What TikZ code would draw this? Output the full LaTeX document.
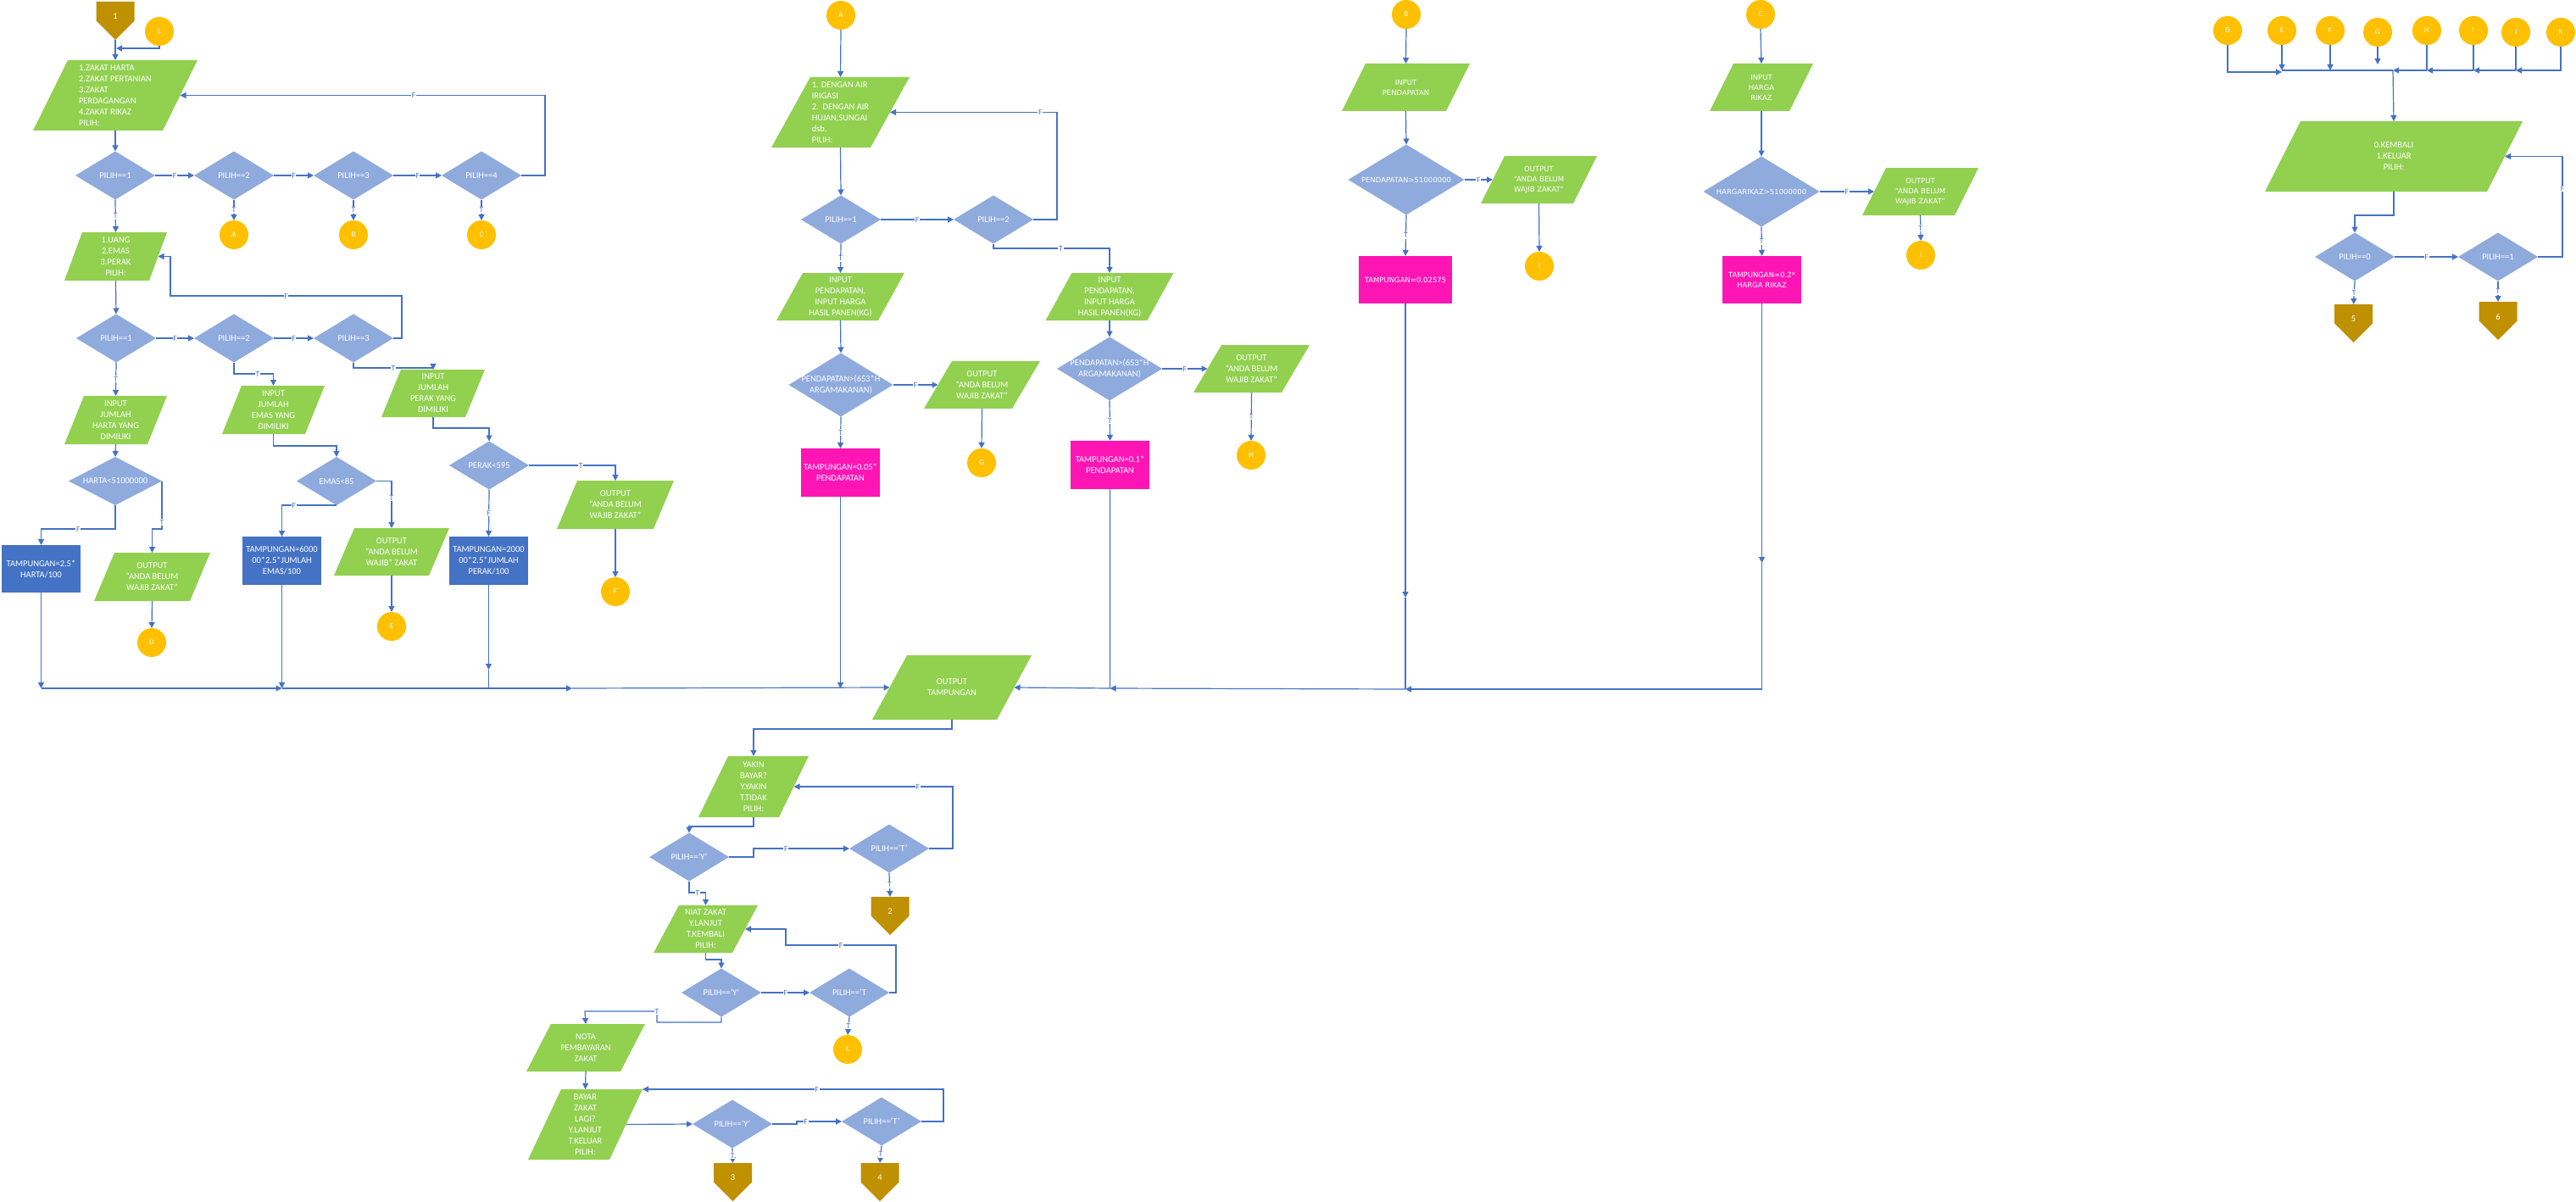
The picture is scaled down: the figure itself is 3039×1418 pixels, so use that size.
\documentclass[tikz,border=0pt]{standalone}
\usepackage{fontspec}
\setmainfont{Carlito}
\newfontfamily\widefont{DejaVu Sans}
\usetikzlibrary{shapes.geometric,arrows.meta}
\definecolor{cGreen}{HTML}{92D050}
\definecolor{cDia}{HTML}{8FAADC}
\definecolor{cLine}{HTML}{4472C4}
\definecolor{cCirc}{HTML}{FFC000}
\definecolor{cOff}{HTML}{BF9000}
\definecolor{cMag}{HTML}{FF14B4}
\definecolor{cBlue}{HTML}{4472C4}
\tikzset{
  txt/.style={text=white, font=\fontsize{10.5}{13}\selectfont, align=center, inner sep=0pt},
  txtw/.style={text=white, font=\widefont\fontsize{8.5}{12}\selectfont, align=center, inner sep=0pt},
  tx/.style={label={[txt]center:{#1}}},
  tl/.style={label={[txt,align=left]center:{#1}}},
  tw/.style={label={[txtw]center:{#1}}},
  dec/.style={diamond, fill=cDia, inner sep=0.5pt, outer sep=0pt},
  dsm/.style={dec, minimum width=94pt, minimum height=57pt},
  proc/.style={rectangle, fill=cBlue, inner sep=0pt, outer sep=0pt},
  procm/.style={rectangle, fill=cMag, inner sep=0pt, outer sep=0pt},
  con/.style={circle, fill=cCirc, minimum size=34pt, inner sep=0pt, outer sep=0pt, text=white, font=\fontsize{9}{9}\selectfont},
  offp/.style={rectangle, anchor=north, minimum width=45pt, minimum height=45pt, inner sep=0pt, outer sep=0pt,
    path picture={\fill[cOff] (path picture bounding box.north west) -- (path picture bounding box.north east) -- (path picture bounding box.east) -- (path picture bounding box.south) -- (path picture bounding box.west) -- cycle;},
    label={[txt,yshift=5pt]center:{#1}}},
  wire/.style={draw=cLine, line width=1.2pt},
  arr/.style={wire, -{Triangle[length=7pt,width=7pt]}},
  lab/.style={text=cLine, fill=white, inner sep=0.8pt, font=\fontsize{9.5}{9.5}\selectfont},
}
% input/output parallelogram: text style, name, centre x, centre y, full width, height, slant, text
\newcommand\pgramnode[8]{%
  \fill[cGreen] ({#3-#5/2},{#4+#6/2}) -- ({#3+#5/2-#7},{#4+#6/2}) -- ({#3+#5/2},{#4-#6/2}) -- ({#3-#5/2+#7},{#4-#6/2}) -- cycle;
  \node[rectangle, inner sep=0pt, outer sep=0pt, minimum width={(#5-#7)*1pt}, minimum height={#6*1pt}, #1={#8}] (#2) at (#3,#4) {};
  \coordinate (#2-tr) at ({#3+#5/2},{#4-#6/2});
}
\begin{document}
\begin{tikzpicture}[x=1pt,y=-1pt]
\useasboundingbox (0,0) rectangle (3039,1418);

% ---------- main menu and zakat harta branch
\node[offp={1}] (o1) at (136,2) {};
\node[con] (cL1) at (188,37) {L};
\pgramnode{tl}{m1}{136}{112.5}{194}{83}{41}{1.ZAKAT HARTA\\2.ZAKAT PERTANIAN\\3.ZAKAT\\PERDAGANGAN\\4.ZAKAT RIKAZ\\PILIH:}
\node[dsm, tx={PILIH==1}] (a1) at (136,207) {};
\node[dsm, tx={PILIH==2}] (a2) at (276,207) {};
\node[dsm, tx={PILIH==3}] (a3) at (417,207) {};
\node[dsm, tx={PILIH==4}] (a4) at (568,207) {};
\node[con] (cA) at (276,277) {A};
\node[con] (cB) at (417,277) {B};
\node[con] (cC) at (568,277) {C};
\pgramnode{tx}{m2}{136.5}{302.5}{121}{57}{21}{1.UANG\\2.EMAS\\3.PERAK\\PILIH:}
\node[dsm, tx={PILIH==1}] (b1) at (137,399) {};
\node[dsm, tx={PILIH==2}] (b2) at (276,399) {};
\node[dsm, tx={PILIH==3}] (b3) at (417,399) {};
\pgramnode{tx}{inH}{136.5}{495.5}{121}{57}{23}{INPUT\\JUMLAH\\HARTA YANG\\DIMILIKI}
\pgramnode{tx}{inE}{322.5}{483.5}{121}{57}{23}{INPUT\\JUMLAH\\EMAS YANG\\DIMILIKI}
\pgramnode{tx}{inK}{511}{464}{122}{56}{23}{INPUT\\JUMLAH\\PERAK YANG\\DIMILIKI}
\node[dec, minimum width=110pt, minimum height=57pt, tx={HARTA<51000000}] (dH) at (136,567.5) {};
\node[dsm, tx={EMAS<85}] (dE) at (397,567.5) {};
\node[dsm, tx={PERAK<595}] (dK) at (577,549) {};
\node[proc, minimum width=93pt, minimum height=56pt, tx={TAMPUNGAN=2.5*\\HARTA/100}] (rH) at (48.5,671) {};
\pgramnode{tx}{oH}{179.5}{680.5}{137}{57}{24}{OUTPUT\\“ANDA BELUM\\WAJIB ZAKAT”}
\node[con] (cD) at (179,758) {D};
\node[proc, minimum width=93pt, minimum height=57pt, tx={TAMPUNGAN=6000\\00*2.5*JUMLAH\\EMAS/100}] (rE) at (332.5,661.5) {};
\pgramnode{tx}{oE}{462}{651}{136}{56}{24}{OUTPUT\\“ANDA BELUM\\WAJIB” ZAKAT}
\node[con] (cE) at (462,739) {E};
\node[proc, minimum width=93pt, minimum height=57pt, tx={TAMPUNGAN=2000\\00*2.5*JUMLAH\\PERAK/100}] (rK) at (576.5,661.5) {};
\pgramnode{tx}{oK}{726}{595.5}{138}{57}{24}{OUTPUT\\“ANDA BELUM\\WAJIB ZAKAT”}
\node[con] (cF) at (726,698) {F};

% ---------- zakat pertanian branch
\node[con] (cA2) at (992,18) {A};
\pgramnode{tl}{mA}{991.5}{132.5}{163}{83}{46}{1. DENGAN AIR\\IRIGASI\\2.\ \ DENGAN AIR\\HUJAN,SUNGAI\\dsb.\\PILIH:}
\node[dsm, tx={PILIH==1}] (p1) at (992,259) {};
\node[dsm, tx={PILIH==2}] (p2) at (1172,259) {};
\pgramnode{tx}{iP1}{991.5}{350}{151}{56}{31}{INPUT\\PENDAPATAN,\\INPUT HARGA\\HASIL PANEN(KG)}
\pgramnode{tx}{iP2}{1309}{350}{151}{56}{31}{INPUT\\PENDAPATAN,\\INPUT HARGA\\HASIL PANEN(KG)}
\node[dec, minimum width=123pt, minimum height=75pt, tx={PENDAPATAN>(653*H\\ARGAMAKANAN)}] (dP1) at (992,454) {};
\node[dec, minimum width=124pt, minimum height=75pt, tx={PENDAPATAN>(653*H\\ARGAMAKANAN)}] (dP2) at (1309,435) {};
\pgramnode{tx}{oG}{1158.5}{454}{137}{56}{33}{OUTPUT\\“ANDA BELUM\\WAJIB ZAKAT”}
\node[con] (cG) at (1158,546) {G};
\node[procm, minimum width=93pt, minimum height=57pt, tx={TAMPUNGAN=0.05*\\PENDAPATAN}] (rP1) at (991.5,557.5) {};
\pgramnode{tx}{oHH}{1476.5}{435}{137}{56}{33}{OUTPUT\\“ANDA BELUM\\WAJIB ZAKAT”}
\node[con] (cH) at (1476,537) {H};
\node[procm, minimum width=93pt, minimum height=57pt, tx={TAMPUNGAN=0.1*\\PENDAPATAN}] (rP2) at (1309.5,548.5) {};
\pgramnode{tx}{tamp}{1123}{811}{188}{76}{41}{OUTPUT\\TAMPUNGAN}

% ---------- zakat perdagangan branch
\node[con] (cB2) at (1659,17) {B};
\pgramnode{tw}{iB}{1658.5}{103}{151}{56}{28}{INPUT\\PENDAPATAN}
\node[dec, minimum width=137pt, minimum height=83pt, tw={PENDAPATAN>51000000}] (dB) at (1659,212) {};
\pgramnode{tw}{oI}{1815.5}{212}{137}{56}{28}{OUTPUT\\“ANDA BELUM\\WAJIB ZAKAT”}
\node[con] (cI) at (1816,314) {I};
\node[procm, minimum width=110pt, minimum height=56pt, tw={TAMPUNGAN=0.02575}] (rB) at (1658,330) {};

% ---------- zakat rikaz branch
\node[con] (cC2) at (2077,17) {C};
\pgramnode{tw}{iC}{2078}{103}{122}{56}{28}{INPUT\\HARGA\\RIKAZ}
\node[dec, minimum width=137pt, minimum height=83pt, tw={HARGARIKAZ>51000000}] (dC) at (2078,226) {};
\pgramnode{tw}{oJ}{2265.5}{226}{137}{56}{28}{OUTPUT\\“ANDA BELUM\\WAJIB ZAKAT”}
\node[con] (cJ) at (2266,301) {J};
\node[procm, minimum width=93pt, minimum height=56pt, tw={TAMPUNGAN=0.2*\\HARGA RIKAZ}] (rC) at (2078.5,330) {};

% ---------- return / exit menu
\node[con] (xD) at (2628,36) {D};
\node[con] (xE) at (2692,36) {E};
\node[con] (xF) at (2749,36) {F};
\node[con] (xG) at (2805,38) {G};
\node[con] (xH) at (2863,36) {H};
\node[con] (xI) at (2918,36) {I};
\node[con] (xJ) at (2968,38) {J};
\node[con] (xK) at (3021,38) {K};
\pgramnode{tx}{mK}{2824}{184.5}{304}{83}{42}{0.KEMBALI\\1.KELUAR\\PILIH:}
\node[dsm, tx={PILIH==0}] (k0) at (2778,303) {};
\node[dsm, tx={PILIH==1}] (k1) at (2947,303) {};
\node[offp={5}] (o5) at (2776.5,359) {};
\node[offp={6}] (o6) at (2947,356) {};

% ---------- payment confirmation
\pgramnode{tx}{yak}{889}{928}{130}{72}{35}{YAKIN\\BAYAR?\\Y.YAKIN\\T.TIDAK\\PILIH:}
\node[dsm, tx={PILIH==’Y’}] (y1) at (813,1011) {};
\node[dsm, tx={PILIH==’T’}] (t1) at (1049,1001) {};
\node[offp={2}] (o2) at (1050,1058) {};
\pgramnode{tx}{niat}{832.5}{1096}{123}{56}{30}{NIAT ZAKAT\\Y.LANJUT\\T.KEMBALI\\PILIH:}
\node[dsm, tx={PILIH==’Y’}] (y2) at (851,1171) {};
\node[dsm, tx={PILIH==’T}] (t2) at (1002,1171) {};
\node[con] (cL2) at (1000,1238) {L};
\pgramnode{tx}{nota}{691}{1236}{140}{56}{29}{NOTA\\PEMBAYARAN\\ZAKAT}
\pgramnode{tx}{bayar}{690.5}{1326.5}{135}{83}{39}{BAYAR\\ZAKAT\\LAGI?\\Y.LANJUT\\T.KELUAR\\PILIH:}
\node[dsm, tx={PILIH==’Y’}] (y3) at (864,1326) {};
\node[dsm, tx={PILIH==’T’}] (t3) at (1040,1323) {};
\node[offp={3}] (o3) at (864.5,1372) {};
\node[offp={4}] (o4) at (1038,1372) {};

% ================= connectors
% main menu
\coordinate (jL) at (137,57);
\draw[arr] (o1.south) -- (m1.north);
\draw[arr] (cL1.south) |- (jL);
\draw[arr] (m1.south) -- (a1.north);
\draw[arr] (a1.east) -- node[lab]{F} (a2.west);
\draw[arr] (a2.east) -- node[lab]{F} (a3.west);
\draw[arr] (a3.east) -- node[lab]{F} (a4.west);
\draw[arr] (a4.east) -- (643,207) |- node[lab,pos=0.68]{F} (m1.east);
\draw[arr] (a2.south) -- node[lab]{T} (cA.north);
\draw[arr] (a3.south) -- node[lab]{T} (cB.north);
\draw[arr] (a4.south) -- node[lab]{T} (cC.north);
\draw[arr] (a1.south) -- node[lab]{T} (m2.north);
% harta submenu
\draw[arr] (m2.south) -- (b1.north);
\draw[arr] (b1.east) -- node[lab]{F} (b2.west);
\draw[arr] (b2.east) -- node[lab]{F} (b3.west);
\draw[arr] (b3.east) -- (474,399) -- (474,349) -- node[lab]{F} (201,349) -- (201,302.5) -- (m2.east);
\draw[arr] (b1.south) -- node[lab]{T} (inH.north);
\draw[arr] (b2.south) -- (276,441) -| node[lab,pos=0.3]{T} (inE.north);
\draw[arr] (b3.south) -- (417,434) -| node[lab,pos=0.25]{T} (inK.north);
\draw[arr] (inH.south) -- (dH.north);
\draw[arr] (inE.south) -- (322.5,526) -| (dE.north);
\draw[arr] (inK.south) -- (511,505) -| (dK.north);
\draw[arr] (dH.south) -- (136,624) -| node[lab,pos=0.25]{F} (rH.north);
\draw[arr] (dH.east) -- node[lab,pos=0.86]{T} (191,624) -| (oH.north);
\draw[arr] (oH.south) -- (cD.north);
\draw[arr] (dE.south) -| node[lab,pos=0.39]{F} (rE.north);
\draw[arr] (dE.east) -| node[lab,pos=0.68]{T} (oE.north);
\draw[arr] (oE.south) -- (cE.north);
\draw[arr] (dK.east) -| node[lab,pos=0.3]{T} (oK.north);
\draw[arr] (dK.south) -- node[lab]{F} (rK.north);
\draw[arr] (oK.south) -- (cF.north);

% collecting line to the output
\coordinate (c0) at (48.5,812);
\coordinate (c1) at (332.5,812);
\coordinate (c2) at (675,812);
\coordinate (c3) at (576.5,790);
\coordinate (c4) at (576.5,812);
\coordinate (c5) at (991.5,812);
\coordinate (c6) at (1309.5,812);
\coordinate (c7) at (1658,813);
\coordinate (c8) at (2078.5,813);
\coordinate (c9) at (1658,705);
\coordinate (c10) at (2078.5,664);
\draw[arr] (rH.south) -- (c0);
\draw[arr] (c0) -- (c1);
\draw[arr] (c1) -- (c2);
\draw[arr] (c2) -- (tamp.west);
\draw[arr] (rE.south) -- (c1);
\draw[arr] (rK.south) -- (c3);
\draw[wire] (c3) -- (c4);
\draw[arr] (rP1.south) -- (c5);
\draw[arr] (rP2.south) -- (c6) -- (tamp.east);
\draw[arr] (rB.south) -- (c9);
\draw[wire] (c9) -- (c7);
\draw[arr] (rC.south) -- (c10);
\draw[wire] (c10) -- (c8);
\draw[arr] (c8) -- (c7);
\draw[arr] (c7) -- (c6);

% pertanian
\draw[arr] (cA2.south) -- (mA.north);
\draw[arr] (mA.south) -- (p1.north);
\draw[arr] (p1.east) -- node[lab]{F} (p2.west);
\draw[arr] (p2.east) -- (1247,259) |- node[lab,pos=0.55]{F} (mA.east);
\draw[arr] (p1.south) -- node[lab]{T} (iP1.north);
\draw[arr] (p2.south) -- (1172,293) -| node[lab,pos=0.29]{T} (iP2.north);
\draw[arr] (iP1.south) -- (dP1.north);
\draw[arr] (iP2.south) -- (dP2.north);
\draw[arr] (dP1.east) -- node[lab]{F} (oG.west);
\draw[arr] (oG.south) -- (cG.north);
\draw[arr] (dP1.south) -- node[lab]{T} (rP1.north);
\draw[arr] (dP2.east) -- node[lab]{F} (oHH.west);
\draw[arr] (oHH.south) -- node[lab]{T} (cH.north);
\draw[arr] (dP2.south) -- node[lab]{T} (rP2.north);

% perdagangan
\draw[arr] (cB2.south) -- (iB.north);
\draw[arr] (iB.south) -- (dB.north);
\draw[arr] (dB.east) -- node[lab]{F} (oI.west);
\draw[arr] (oI.south) -- (cI.north);
\draw[arr] (dB.south) -- node[lab]{T} (rB.north);

% rikaz
\draw[arr] (cC2.south) -- (iC.north);
\draw[arr] (iC.south) -- (dC.north);
\draw[arr] (dC.east) -- node[lab]{F} (oJ.west);
\draw[arr] (oJ.south) -- node[lab]{T} (cJ.north);
\draw[arr] (dC.south) -- node[lab]{T} (rC.north);

% connectors gathered into the return menu
\coordinate (bD) at (2692,85);
\coordinate (bus0) at (2692,83);
\coordinate (busF) at (2749,83);
\coordinate (busG) at (2805,76);
\coordinate (bus1) at (2823,83);
\coordinate (busH) at (2863,83);
\coordinate (busI) at (2918,83);
\coordinate (busJ) at (2968,83);
\draw[arr] (xD.south) |- (bD);
\draw[arr] (xE.south) -- (bus0);
\draw[arr] (xF.south) -- (busF);
\draw[arr] (xG.south) -- (busG);
\draw[wire] (bus0) -- (bus1);
\draw[arr] (busH) -- (bus1);
\draw[arr] (busI) -- (busH);
\draw[arr] (busJ) -- (busI);
\draw[wire] (xH.south) -- (busH);
\draw[wire] (xI.south) -- (busI);
\draw[wire] (xJ.south) -- (busJ);
\draw[arr] (xK.south) |- (busJ);
\draw[arr] (bus1) -- (mK.north);
\draw[arr] (mK.south) -- (2824,254) -| (k0.north);
\draw[arr] (k0.east) -- node[lab]{F} (k1.west);
\draw[arr] (k1.east) -- (3023,303) |- node[lab,pos=0.34]{F} (mK.east);
\draw[arr] (k0.south) -- node[lab]{T} (o5.north);
\draw[arr] (k1.south) -- node[lab]{T} (o6.north);

% payment confirmation
\draw[arr] (tamp.south) -- (1123,860) -| (yak.north);
\draw[arr] (yak.south) -- (889,975) -| (y1.north);
\draw[arr] (y1.east) -- (889,1011) |- node[lab,pos=0.67]{F} (t1.west);
\draw[arr] (t1.east) -- (1124,1001) |- node[lab,pos=0.61]{F} (yak.east);
\draw[arr] (t1.south) -- node[lab]{T} (o2.north);
\draw[arr] (y1.south) -- (813,1053) -| node[lab,pos=0.25]{T} (niat.north);
\draw[arr] (niat.south) -- (832.5,1132) -| (y2.north);
\draw[arr] (y2.east) -- node[lab]{F} (t2.west);
\draw[arr] (t2.east) -- (1057,1171) -- (1057,1115) -- node[lab]{F} (927,1115) -- (927,1096) -- (niat.east);
\draw[arr] (t2.south) -- node[lab]{T} (cL2.north);
\draw[arr] (y2.south) -- (851,1206) -- (775,1206) -- (775,1193) node[lab]{T} -- (690,1193) -- (nota.north);
\draw[arr] (nota.south) -- (bayar.north);
\draw[arr] (bayar.east) -- (y3.west);
\draw[arr] (y3.east) -- (940,1326) |- node[lab,pos=0.6]{F} (t3.west);
\draw[arr] (t3.east) -- (1113,1323) |- node[lab,pos=0.71]{F} (bayar-tr);
\draw[arr] (y3.south) -- node[lab]{T} (o3.north);
\draw[arr] (t3.south) -- node[lab]{T} (o4.north);
\end{tikzpicture}
\end{document}
